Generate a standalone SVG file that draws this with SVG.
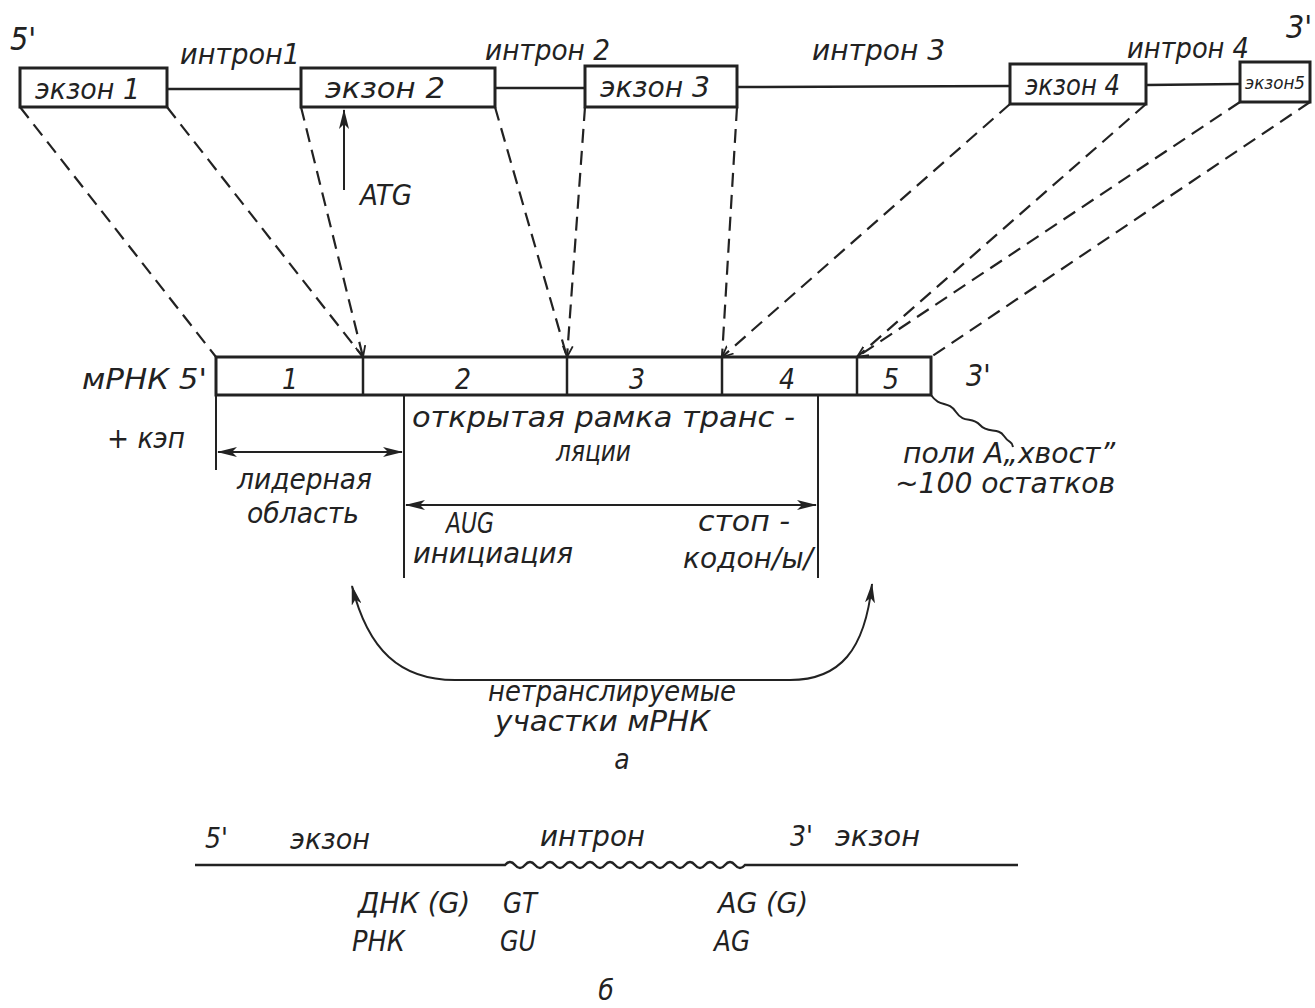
<svg xmlns="http://www.w3.org/2000/svg" width="1315" height="1008" viewBox="0 0 1315 1008">
<style>
text{font-family:"DejaVu Sans Condensed","Liberation Sans Narrow","Liberation Sans",sans-serif;font-style:italic;font-size:28px;fill:#222}
text.s18{font-size:18px}
text.s30{font-size:30px}
text.s32{font-size:32px}
.box{fill:#fff;stroke:#222;stroke-width:3}
.ln{fill:none;stroke:#222;stroke-width:2.5}
.thin{fill:none;stroke:#222;stroke-width:2}
.dash{fill:none;stroke:#222;stroke-width:2.2;stroke-dasharray:14 8}
.c{text-anchor:middle}
</style>
<defs>
<marker id="ah" viewBox="0 0 20 10" refX="19" refY="5" markerWidth="20" markerHeight="10" markerUnits="userSpaceOnUse" orient="auto-start-reverse">
<path d="M0,0 L20,5 L0,10 L5,5 z" fill="#222"/>
</marker>
<marker id="v" viewBox="0 0 12 12" refX="11" refY="6" markerWidth="12" markerHeight="12" markerUnits="userSpaceOnUse" orient="auto">
<path d="M0,1 L11,6 L0,11" fill="none" stroke="#222" stroke-width="1.8"/>
</marker>
</defs>
<rect width="1315" height="1008" fill="#fff"/>

<!-- gene (top) -->
<g id="gene">
<line class="ln" x1="167" y1="89" x2="301" y2="89"/>
<line class="ln" x1="495" y1="88" x2="585" y2="88"/>
<line class="ln" x1="737" y1="87" x2="1010" y2="86"/>
<line class="ln" x1="1146" y1="85" x2="1240" y2="84"/>
<text class="s32" x="10" y="50">5'</text>
<text class="s32" x="1286" y="38">3'</text>
<text x="180" y="64" textLength="120" lengthAdjust="spacingAndGlyphs">интрон1</text>
<text x="485" y="60" textLength="125" lengthAdjust="spacingAndGlyphs">интрон 2</text>
<text x="812" y="60" textLength="133" lengthAdjust="spacingAndGlyphs">интрон 3</text>
<text x="1127" y="58" textLength="122" lengthAdjust="spacingAndGlyphs">интрон 4</text>
</g>
<g id="exon1"><rect class="box" x="20" y="68" width="147" height="39"/><text x="35" y="99" textLength="105" lengthAdjust="spacingAndGlyphs">экзон 1</text></g>
<g id="exon2"><rect class="box" x="301" y="68" width="194" height="39"/><text x="325" y="98" textLength="120" lengthAdjust="spacingAndGlyphs">экзон 2</text></g>
<g id="exon3"><rect class="box" x="585" y="66" width="152" height="41"/><text x="600" y="97" textLength="110" lengthAdjust="spacingAndGlyphs">экзон 3</text></g>
<g id="exon4"><rect class="box" x="1010" y="64" width="136" height="40"/><text x="1025" y="95" textLength="95" lengthAdjust="spacingAndGlyphs">экзон 4</text></g>
<g id="exon5"><rect class="box" x="1240" y="62" width="70" height="40"/><text class="s18" x="1245" y="89" textLength="60" lengthAdjust="spacingAndGlyphs">экзон5</text></g>
<g id="atg"><text x="360" y="205" textLength="52" lengthAdjust="spacingAndGlyphs">ATG</text></g>

<!-- mRNA -->
<g id="mrna">
<rect class="box" x="216" y="357" width="715" height="38"/>
<line class="ln" x1="363" y1="357" x2="363" y2="395"/>
<line class="ln" x1="567" y1="357" x2="567" y2="395"/>
<line class="ln" x1="722" y1="357" x2="722" y2="395"/>
<line class="ln" x1="857" y1="357" x2="857" y2="395"/>
<text x="82" y="389" textLength="125" lengthAdjust="spacingAndGlyphs">мРНК 5'</text>
<text class="c" x="290" y="389">1</text>
<text class="c" x="463" y="389">2</text>
<text class="c" x="637" y="389">3</text>
<text class="c" x="787" y="389">4</text>
<text class="c" x="891" y="389">5</text>
<text class="s30" x="966" y="386">3'</text>
</g>
<g id="cap"><text x="107" y="448" textLength="78" lengthAdjust="spacingAndGlyphs">+ кэп</text></g>
<g id="leader">
<text x="237" y="489" textLength="135" lengthAdjust="spacingAndGlyphs">лидерная</text>
<text x="247" y="523" textLength="112" lengthAdjust="spacingAndGlyphs">область</text>
</g>
<g id="orf">
<text x="412" y="427" textLength="383" lengthAdjust="spacingAndGlyphs">открытая рамка транс -</text>
<text x="556" y="461" textLength="75" lengthAdjust="spacingAndGlyphs">ляции</text>
<text x="446" y="533" textLength="48" lengthAdjust="spacingAndGlyphs">AUG</text>
<text x="413" y="563" textLength="160" lengthAdjust="spacingAndGlyphs">инициация</text>
<text x="698" y="531" textLength="92" lengthAdjust="spacingAndGlyphs">стоп -</text>
<text x="683" y="568" textLength="130" lengthAdjust="spacingAndGlyphs">кодон/ы/</text>
</g>
<g id="polya">
<text x="903" y="463" textLength="212" lengthAdjust="spacingAndGlyphs">поли  А„хвост”</text>
<text x="895" y="493" textLength="220" lengthAdjust="spacingAndGlyphs">~100 остатков</text>
</g>
<g id="utr">
<text x="488" y="701" textLength="248" lengthAdjust="spacingAndGlyphs">нетранслируемые</text>
<text x="495" y="731" textLength="215" lengthAdjust="spacingAndGlyphs">участки мРНК</text>
<text class="c" x="622" y="769">а</text>
</g>

<!-- splice site (bottom) -->
<g id="splice">
<path class="ln" d="M195,865 L505,865 q5,-6 10,0 q5,6 10,0 q5,-6 10,0 q5,6 10,0 q5,-6 10,0 q5,6 10,0 q5,-6 10,0 q5,6 10,0 q5,-6 10,0 q5,6 10,0 q5,-6 10,0 q5,6 10,0 q5,-6 10,0 q5,6 10,0 q5,-6 10,0 q5,6 10,0 q5,-6 10,0 q5,6 10,0 q5,-6 10,0 q5,6 10,0 q5,-6 10,0 q5,6 10,0 q5,-6 10,0 q5,6 10,0 L1018,865"/>
<text x="205" y="848">5'</text>
<text x="290" y="849" textLength="80" lengthAdjust="spacingAndGlyphs">экзон</text>
<text x="540" y="846" textLength="105" lengthAdjust="spacingAndGlyphs">интрон</text>
<text x="790" y="846">3'</text>
<text x="835" y="846" textLength="85" lengthAdjust="spacingAndGlyphs">экзон</text>
<text x="358" y="913" textLength="112" lengthAdjust="spacingAndGlyphs">ДНК (G)</text>
<text x="503" y="913" textLength="34" lengthAdjust="spacingAndGlyphs">GT</text>
<text x="718" y="913" textLength="90" lengthAdjust="spacingAndGlyphs">AG (G)</text>
<text x="352" y="951" textLength="53" lengthAdjust="spacingAndGlyphs">РНК</text>
<text x="500" y="951" textLength="36" lengthAdjust="spacingAndGlyphs">GU</text>
<text x="714" y="951" textLength="36" lengthAdjust="spacingAndGlyphs">AG</text>
<text class="c" x="606" y="1000">б</text>
</g>

<!-- connectors -->
<g id="connectors">
<line class="dash" x1="20" y1="107" x2="216" y2="357"/>
<line class="dash" x1="167" y1="107" x2="363" y2="357"/>
<line class="dash" x1="301" y1="107" x2="363" y2="357" marker-end="url(#v)"/>
<line class="dash" x1="495" y1="107" x2="567" y2="357"/>
<line class="dash" x1="585" y1="107" x2="567" y2="357" marker-end="url(#v)"/>
<line class="dash" x1="737" y1="107" x2="722" y2="357"/>
<line class="dash" x1="1010" y1="104" x2="722" y2="357" marker-end="url(#v)"/>
<line class="dash" x1="1146" y1="104" x2="857" y2="357"/>
<line class="dash" x1="1240" y1="102" x2="857" y2="357" marker-end="url(#v)"/>
<line class="dash" x1="1310" y1="102" x2="931" y2="357"/>
<line class="thin" x1="344" y1="190" x2="344" y2="110" marker-end="url(#ah)"/>
<line class="thin" x1="216" y1="395" x2="216" y2="470"/>
<line class="thin" x1="404" y1="395" x2="404" y2="578"/>
<line class="thin" x1="818" y1="395" x2="818" y2="578"/>
<line class="thin" x1="218" y1="452" x2="402" y2="452" marker-start="url(#ah)" marker-end="url(#ah)"/>
<line class="thin" x1="406" y1="505" x2="816" y2="505" marker-start="url(#ah)" marker-end="url(#ah)"/>
<path class="thin" d="M931,395 C940,408 948,400 956,412 S972,416 980,425 S998,427 1004,436 S1012,440 1013,447"/>
<path class="thin" d="M352,586 C368,650 400,680 455,680 L790,680 C840,680 865,650 872,584" marker-start="url(#ah)" marker-end="url(#ah)"/>
</g>
</svg>
